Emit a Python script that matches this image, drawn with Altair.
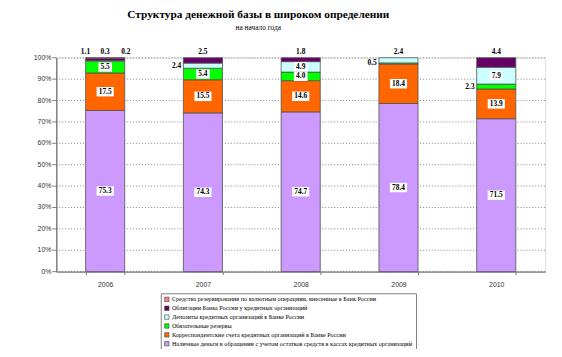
import altair as alt
import pandas as pd

years = ["2006", "2007", "2008", "2009", "2010"]

# series, bottom of stack to top
series = [
    "Наличные деньги в обращении с учетом остатков средств в кассах кредитных организаций",
    "Корреспондентские счета кредитных организаций в Банке России",
    "Обязательные резервы",
    "Депозиты кредитных организаций в Банке России",
    "Облигации Банка России у кредитных организаций",
    "Средства резервирования по валютным операциям, внесенные в Банк России",
]
colors = ["#CC99FF", "#FF6600", "#00FF00", "#CCFFFF", "#660066", "#FF8080"]

cash = [75.3, 74.3, 74.7, 78.4, 71.5]
corr = [17.5, 15.5, 14.6, 18.4, 13.9]
reserves = [5.5, 5.4, 4.0, 0.5, 2.3]
deposits = [0.3, 2.4, 4.9, 2.4, 7.9]
bonds = [1.1, 2.5, 1.8, 0.0, 4.4]
fx = [0.2, 0.0, 0.0, 0.0, 0.0]
values = [cash, corr, reserves, deposits, bonds, fx]
tick_values = [0.0, 0.1, 0.2, 0.3, 0.4, 0.5, 0.6, 0.7, 0.8, 0.9, 1.0]
tick_labels = ["0%", "10%", "20%", "30%", "40%", "50%", "60%", "70%", "80%", "90%", "100%"]

rows = []
for yi, yr in enumerate(years):
    vals = [v[yi] for v in values]
    total = sum(vals)
    nz = [i for i, v in enumerate(vals) if v > 0]
    top = nz[-1]
    # a group of tiny values at the top of the bar is labelled side by side above it
    cluster = [top]
    if vals[top] < 1.5:
        for i in reversed(nz[:-1]):
            if vals[i] < 1.5:
                cluster.append(i)
            else:
                break
    cl_sorted = sorted(cluster, key=lambda i: -vals[i])
    start = 0.0
    for si, v in enumerate(vals):
        if v > 0:
            if si in cluster:
                place = "above"
                slot = 0 if len(cluster) == 1 else cl_sorted.index(si) - (len(cluster) - 1) // 2
            elif v < 3.5:
                place, slot = "left", 0
            else:
                place, slot = "inside", 0
            lab = f"{v:.1f}"
            rows.append(dict(
                year=yr, series=series[si], idx=si, value=v,
                ymid=(start + v / 2) / total, place=place, slot=slot,
                label=lab,
                boxsize=(len(lab) * 3.6 + 3) ** 2,
                boxshape="M-1,-0.55H1V0.55H-1Z" if len(lab) > 3 else "M-1,-0.68H1V0.68H-1Z",
            ))
        start += v

df = pd.DataFrame(rows)
ticks_df = pd.DataFrame({"t": tick_values, "tl": tick_labels})

legend_order = list(reversed(series))
legend_colors = list(reversed(colors))

xaxis = alt.Axis(labelAngle=0, labelFont="Liberation Sans", labelFontSize=7,
                 labelColor="#333333", domainColor="#808080", domainWidth=1.5,
                 tickColor="#808080", tickBand="extent", tickSize=3,
                 labelPadding=6)
xscale = alt.Scale(paddingInner=0.6, paddingOuter=0.3)
X = alt.X("year:N", title=None, scale=xscale, axis=xaxis)

yscale = alt.Scale(domain=[0, 1])
yaxis = alt.Axis(labels=False, ticks=False, grid=False,
                 domainColor="#808080", domainWidth=1.5)
Ymid = alt.Y("ymid:Q", title=None, scale=yscale, axis=yaxis)
Yt = alt.Y("t:Q", title=None, scale=yscale, axis=yaxis)

tick_base = alt.Chart(ticks_df)
grid = tick_base.mark_rule(color="#606060", strokeWidth=0.8, strokeDash=[1, 2]).encode(y=Yt)
ytick = tick_base.mark_rule(color="#808080", strokeWidth=1).encode(
    y=Yt, x=alt.value(-4), x2=alt.value(0))
ylab = tick_base.mark_text(font="Liberation Sans", fontSize=7, color="#333333",
                           align="right", baseline="middle").encode(
    y=Yt, x=alt.value(-5), text="tl:N")

base = alt.Chart(df)

bars = base.mark_bar(stroke="#505050", strokeWidth=0.8).encode(
    x=X,
    y=alt.Y("value:Q", stack="normalize", title=None, scale=yscale, axis=yaxis),
    color=alt.Color("series:N",
                    scale=alt.Scale(domain=legend_order, range=legend_colors),
                    legend=alt.Legend(title=None, orient="none", legendX=106, legendY=239,
                                      symbolType="square", symbolSize=20,
                                      symbolStrokeColor="#404040", symbolStrokeWidth=0.6,
                                      labelFont="Liberation Serif", labelFontSize=6.3,
                                      labelLimit=400, rowPadding=1.0, padding=3,
                                      strokeColor="#808080", fillColor="white",
                                      labelOffset=2)),
    order=alt.Order("idx:Q"),
)

inside = base.transform_filter(alt.datum.place == "inside")

boxes = inside.mark_point(filled=True, fill="white", opacity=1, strokeWidth=0).encode(
    x=X, y=Ymid,
    size=alt.Size("boxsize:Q", scale=None, legend=None),
    shape=alt.Shape("boxshape:N", scale=None, legend=None),
)

txt_style = dict(font="Liberation Serif", fontSize=7.5, fontWeight="bold", color="black")

inside_txt = inside.mark_text(**txt_style, baseline="middle").encode(
    x=X, y=Ymid, text="label:N")

left_txt = base.transform_filter(alt.datum.place == "left").mark_text(
    **txt_style, baseline="middle", align="right", dx=-22).encode(
    x=X, y=Ymid, text="label:N")

above_layers = []
for slot, dx in [(-1, -20), (0, 0), (1, 21)]:
    above_layers.append(
        base.transform_filter((alt.datum.place == "above") & (alt.datum.slot == slot))
        .mark_text(**txt_style, baseline="bottom", dy=-2, dx=dx)
        .encode(x=X, y=alt.value(0), text="label:N"))

chart = alt.layer(grid, ytick, ylab, bars, boxes, inside_txt, left_txt, *above_layers).properties(
    width=496, height=217,
    autosize=alt.AutoSizeParams(type="none"),
    padding={"left": 49, "top": 48, "right": 9, "bottom": 76},
    title=alt.TitleParams(
        text="Структура денежной базы в широком определении",
        subtitle="на начало года",
        font="Liberation Serif", fontSize=11.5, fontWeight="bold", color="black",
        subtitleFont="Liberation Serif", subtitleFontSize=7.5, subtitleColor="black",
        subtitlePadding=3, anchor="middle", dx=-43, offset=17),
).configure_view(stroke=None).configure(background="white")

chart.save("out.html", embed_options={"renderer": "svg", "actions": False})
